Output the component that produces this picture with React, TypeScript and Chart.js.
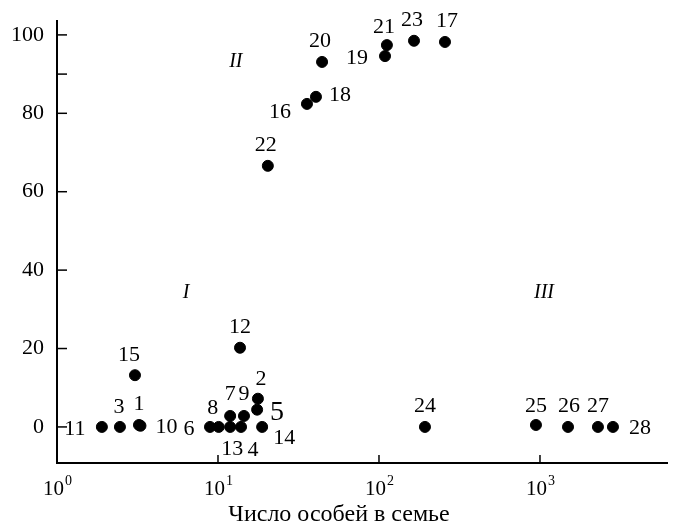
import React, { useEffect, useRef } from "react";
import { Chart, registerables } from "chart.js";

Chart.register(...registerables);

// ---- data ----
const pointIds = ["1","2","3","4","5","6","7","8","9","10","11","12","13","14","15","16","17","18","19","20","21","22","23","24","25","26","27","28"];
const pointX = [3.23, 17.7, 2.46, 13.9, 17.5, 8.92, 11.9, 10.1, 14.5, 3.3, 1.9, 13.7, 11.9, 18.8, 3.05, 35.7, 257, 40.6, 109, 44.3, 112, 20.4, 165, 193, 944, 1493, 2291, 2840];
const pointY = [0.5, 7.2, 0, 0, 4.4, 0, 2.8, 0, 2.8, 0.3, 0, 20.2, 0, 0, 13.2, 82.4, 98.2, 84.2, 94.6, 93.1, 97.4, 66.6, 98.5, 0, 0.5, 0, 0, 0];

const regionNames = ["I", "II", "III"];
const regionX = [6.33, 12.9, 1059];
const regionY = [34.2, 93.1, 34.2];

const xTickExponents = [0, 1, 2, 3];
const yTickValues = [0, 20, 40, 60, 80, 90, 100];
const yTickLabelled = [0, 20, 40, 60, 80, 100];
const xAxisTitle = "Число особей в семье";

// ---- label placement (style, not data) ----
const labelOffsets: [number, number][] = [
  [0, -21], [3, -19], [-1, -20], [12, 23], [20, 3], [-21, 2], [0, -22], [-6, -19], [0, -22], [26, 1],
  [-27, 2], [0, -21], [2, 22], [22, 11], [-6, -20], [-27, 8], [2, -21], [24, -2], [-28, 2], [-2, -21],
  [-3, -18], [-2, -21], [-2, -21], [0, -21], [0, -19], [1, -21], [0, -21], [27, 1],
];
const bigLabelIds = ["5"];

const FONT = "'Liberation Serif', 'Times New Roman', serif";

const overlay = {
  id: "overlay",
  afterDraw(chart: any) {
    const ctx = chart.ctx as CanvasRenderingContext2D;
    const xs = chart.scales.x;
    const ys = chart.scales.y;
    const a = chart.chartArea;
    ctx.save();
    ctx.strokeStyle = "#000";
    ctx.fillStyle = "#000";
    // axes
    ctx.lineWidth = 2;
    ctx.beginPath();
    ctx.moveTo(a.left, a.top);
    ctx.lineTo(a.left, a.bottom);
    ctx.lineTo(a.right, a.bottom);
    ctx.stroke();
    // y ticks inward
    ctx.lineWidth = 1.5;
    yTickValues.forEach((v) => {
      const py = ys.getPixelForValue(v);
      ctx.beginPath();
      ctx.moveTo(a.left, py);
      ctx.lineTo(a.left + 10, py);
      ctx.stroke();
    });
    // x ticks inward + labels with superscript
    xTickExponents.forEach((e) => {
      const px = xs.getPixelForValue(Math.pow(10, e));
      ctx.beginPath();
      ctx.moveTo(px, a.bottom);
      ctx.lineTo(px, a.bottom - 8);
      ctx.stroke();
      ctx.font = `21px ${FONT}`;
      const w1 = ctx.measureText("10").width;
      ctx.font = `14px ${FONT}`;
      const w2 = ctx.measureText(String(e)).width;
      const start = px - (w1 + w2) / 2;
      ctx.textAlign = "left";
      ctx.textBaseline = "alphabetic";
      ctx.font = `21px ${FONT}`;
      ctx.fillText("10", start, a.bottom + 32);
      ctx.font = `14px ${FONT}`;
      ctx.fillText(String(e), start + w1 + 1, a.bottom + 22);
    });
    // axis title
    ctx.font = `24px ${FONT}`;
    ctx.textAlign = "center";
    ctx.textBaseline = "alphabetic";
    ctx.fillText(xAxisTitle, 339, a.bottom + 58);
    // point labels
    ctx.textBaseline = "middle";
    pointIds.forEach((id, i) => {
      const px = xs.getPixelForValue(pointX[i]);
      const py = ys.getPixelForValue(pointY[i]);
      const [dx, dy] = labelOffsets[i];
      ctx.font = bigLabelIds.includes(id) ? `28px ${FONT}` : `22px ${FONT}`;
      ctx.fillText(id, px + dx, py + dy);
    });
    // region labels
    ctx.font = `italic 20px ${FONT}`;
    regionNames.forEach((n, i) => {
      ctx.fillText(n, xs.getPixelForValue(regionX[i]), ys.getPixelForValue(regionY[i]));
    });
    ctx.restore();
  },
};

export default function App() {
  const ref = useRef<HTMLCanvasElement>(null);
  useEffect(() => {
    document.body.style.margin = "0";
    const chart = new Chart(ref.current!, {
      type: "scatter",
      data: {
        datasets: [
          {
            data: pointX.map((x, i) => ({ x, y: pointY[i] })),
            backgroundColor: "#000",
            borderColor: "#000",
            pointRadius: 5.5,
            pointHoverRadius: 5.5,
          },
        ],
      },
      options: {
        responsive: false,
        animation: false,
        layout: { padding: { top: 20, right: 11, left: 0, bottom: 0 } },
        plugins: { legend: { display: false }, tooltip: { enabled: false } },
        scales: {
          x: {
            type: "logarithmic",
            min: 1,
            max: 6240,
            grid: { display: false, drawTicks: false },
            border: { display: false },
            ticks: { display: false },
            afterBuildTicks: (s: any) => {
              s.ticks = xTickExponents.map((e) => ({ value: Math.pow(10, e) }));
            },
            afterFit: (s: any) => {
              s.height = 61;
              s.paddingLeft = 0;
              s.paddingRight = 0;
            },
          },
          y: {
            type: "linear",
            min: -9.2,
            max: 103.8,
            grid: { display: false, drawTicks: false },
            border: { display: false },
            ticks: {
              padding: 13,
              color: "#000",
              font: { family: FONT, size: 22 },
              callback: (v: any) => (yTickLabelled.includes(Number(v)) ? String(v) : ""),
            },
            afterBuildTicks: (s: any) => {
              s.ticks = yTickValues.map((v) => ({ value: v }));
            },
            afterFit: (s: any) => {
              s.width = 57;
              s.paddingTop = 0;
              s.paddingBottom = 0;
            },
          },
        },
      },
      plugins: [overlay],
    });
    return () => chart.destroy();
  }, []);
  return <canvas ref={ref} width={679} height={524} />;
}
